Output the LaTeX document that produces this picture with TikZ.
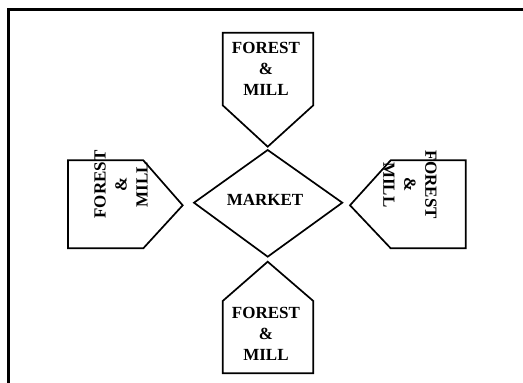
\documentclass[tikz,border=0pt]{standalone}
\usepackage{fontspec}
\setmainfont{Liberation Serif}
\begin{document}
\begin{tikzpicture}[x=1pt,y=-1pt,
  outline/.style={draw=black,line width=1.7pt,line join=miter},
  frame/.style={draw=black,line width=2.6pt},
  label/.style={align=center,inner sep=0pt,font=\fontsize{17}{21}\selectfont\bfseries}]
  \useasboundingbox (0,0) rectangle (523,383);
  \clip (0,0) rectangle (523,383);
  % outer border (runs off the right and bottom edges)
  \draw[frame] (8.5,9.5) rectangle (540,400);
  % central market diamond
  \draw[outline] (194,202.7) coordinate (mW) -- (267.7,150) coordinate (mN)
    -- (342.3,202.7) coordinate (mE) -- (267.7,256.7) coordinate (mS) -- cycle;
  \node[label] (market) at (265,200) {MARKET};
  % four forest & mill pentagons pointing at the market
  \draw[outline] (222.7,32.7) -- (313.3,32.7) -- (313.3,105.3)
    -- (267.7,146.7) coordinate (tN) -- (222.7,105.3) -- cycle;
  \node[label] (north) at (266,68.5) {FOREST\\\&\\MILL};
  \draw[outline] (267.7,261.7) coordinate (tS) -- (313.3,301) -- (313.3,373.3)
    -- (222.7,373.3) -- (222.7,301) -- cycle;
  \node[label] (south) at (266,334) {FOREST\\\&\\MILL};
  \draw[outline] (68,160.3) -- (143.3,160.3) -- (182.7,205.3) coordinate (tW)
    -- (143.3,248.3) -- (68,248.3) -- cycle;
  \node[label,rotate=90] (west) at (121,184.5) {FOREST\\\&\\MILL};
  \draw[outline] (350,205.3) coordinate (tE) -- (390.7,160.3) -- (465.7,160.3)
    -- (465.7,248.3) -- (390.7,248.3) -- cycle;
  \node[label,rotate=-90] (east) at (410,185) {FOREST\\\&\\MILL};
\end{tikzpicture}
\end{document}
